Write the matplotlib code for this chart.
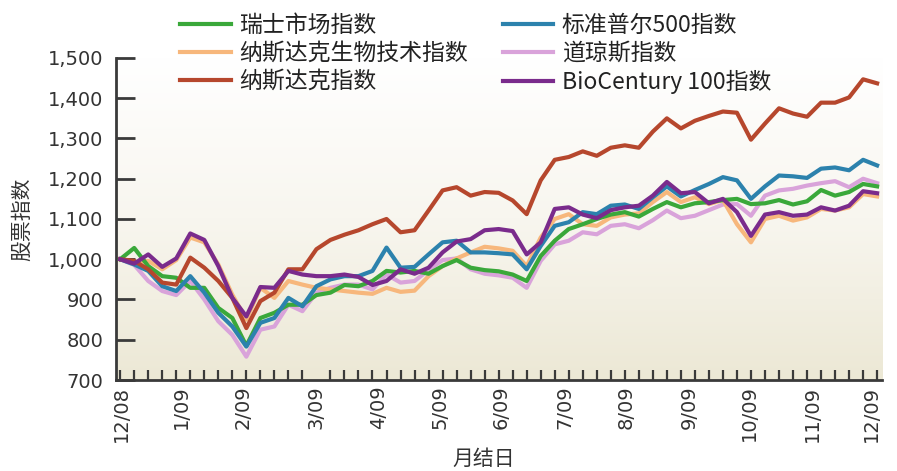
import numpy as np
import matplotlib
matplotlib.use("Agg")
import matplotlib.pyplot as plt
from matplotlib.colors import LinearSegmentedColormap

plt.rcParams['font.family'] = ['Noto Sans CJK SC', 'DejaVu Sans']

# weekly index values, 12/08 = 1000
weeks = np.arange(55)
month_labels = ["12/08", "1/09", "2/09", "3/09", "4/09", "5/09", "6/09",
                "7/09", "8/09", "9/09", "10/09", "11/09", "12/09"]
month_pos = [0.1, 4.4, 8.8, 14.0, 18.4, 22.8, 27.2, 31.7, 36.1, 40.6, 44.9, 49.4, 53.6]

swiss = [1000, 1028, 983, 958, 954, 929, 929, 879, 854, 785, 854, 867, 887, 887,
         911, 917, 936, 933, 946, 971, 967, 971, 964, 983, 998, 979, 973, 970,
         962, 946, 1008, 1046, 1075, 1087, 1100, 1111, 1117, 1106, 1125, 1142,
         1129, 1139, 1142, 1147, 1150, 1137, 1139, 1147, 1136, 1144, 1172, 1158,
         1167, 1187, 1181]
sp500 = [1000, 987, 971, 933, 921, 958, 917, 867, 833, 783, 842, 854, 904, 883,
         933, 950, 958, 958, 971, 1029, 979, 981, 1012, 1042, 1046, 1017, 1017,
         1015, 1012, 975, 1033, 1083, 1092, 1117, 1112, 1133, 1136, 1125, 1154,
         1181, 1156, 1172, 1187, 1204, 1196, 1150, 1181, 1208, 1206, 1202, 1225,
         1228, 1221, 1247, 1233]
biotech = [1000, 992, 996, 975, 998, 1054, 1042, 987, 912, 850, 929, 904, 946,
           937, 929, 925, 921, 917, 914, 929, 919, 922, 958, 983, 1002, 1017,
           1031, 1027, 1021, 983, 1054, 1100, 1112, 1087, 1083, 1104, 1111,
           1114, 1142, 1167, 1142, 1154, 1137, 1147, 1087, 1042, 1100, 1108,
           1096, 1104, 1125, 1121, 1129, 1162, 1156]
dowjones = [1000, 986, 946, 921, 911, 946, 900, 846, 812, 758, 825, 833, 887,
            871, 917, 929, 937, 937, 925, 962, 942, 946, 973, 998, 1002, 975,
            964, 960, 954, 929, 996, 1037, 1046, 1067, 1062, 1083, 1087, 1077,
            1097, 1121, 1102, 1108, 1122, 1136, 1137, 1108, 1158, 1171, 1175,
            1183, 1189, 1194, 1179, 1200, 1189]
nasdaq = [1000, 996, 975, 942, 937, 1004, 979, 946, 904, 829, 896, 917, 975, 975,
          1025, 1048, 1061, 1072, 1087, 1100, 1067, 1072, 1121, 1171, 1179, 1158,
          1167, 1165, 1146, 1112, 1196, 1247, 1254, 1268, 1257, 1277, 1283, 1277,
          1317, 1350, 1325, 1344, 1356, 1367, 1364, 1297, 1337, 1375, 1362, 1354,
          1389, 1389, 1402, 1447, 1437]
biocentury = [1000, 989, 1012, 981, 1002, 1064, 1048, 983, 904, 858, 931, 929,
              971, 962, 958, 958, 962, 956, 936, 946, 975, 964, 979, 1017, 1044,
              1050, 1072, 1075, 1070, 1012, 1042, 1125, 1129, 1111, 1102, 1122,
              1129, 1133, 1158, 1192, 1164, 1167, 1139, 1150, 1117, 1058, 1111,
              1117, 1108, 1111, 1129, 1121, 1133, 1169, 1164]

fig = plt.figure(figsize=(8.97, 4.71), dpi=100)
ax = fig.add_axes([0.1293, 0.1932, 0.8540, 0.6837])

# soft white-to-beige background, white at the top
grad = np.linspace(0, 1, 256).reshape(-1, 1)
cmap = LinearSegmentedColormap.from_list("bg", ["#ffffff", "#f8f6ef", "#ece8d5"])
ax.imshow(grad, aspect='auto', cmap=cmap, extent=[-0.3, 54.35, 700, 1500],
          zorder=0, interpolation='bilinear')

lw = 3
l_dj, = ax.plot(weeks, dowjones, color='#d9a3da', lw=lw, zorder=2)
l_bt, = ax.plot(weeks, biotech, color='#f7b77c', lw=lw, zorder=2)
l_sw, = ax.plot(weeks, swiss, color='#3aa83a', lw=lw, zorder=3)
l_sp, = ax.plot(weeks, sp500, color='#2c82ad', lw=lw, zorder=3)
l_nq, = ax.plot(weeks, nasdaq, color='#b6472d', lw=lw, zorder=4)
l_bc, = ax.plot(weeks, biocentury, color='#7a2b8c', lw=lw, zorder=4)

ax.set_xlim(-0.3, 54.35)
ax.set_ylim(700, 1500)
ax.set_facecolor('none')

for s in ['top', 'right']:
    ax.spines[s].set_visible(False)
for s in ['left', 'bottom']:
    ax.spines[s].set_color('#3a3a3a')
    ax.spines[s].set_linewidth(2)

ax.set_yticks(np.arange(700, 1501, 100))
ax.set_yticklabels([f"{v:,}" for v in range(700, 1501, 100)], fontsize=14,
                   family='DejaVu Sans')
ax.tick_params(axis='y', direction='in', length=14, width=2, color='#3a3a3a',
               pad=9, labelcolor='#333333')

ax.set_xticks(month_pos)
ax.set_xticklabels(month_labels, rotation=90, fontsize=14, family='DejaVu Sans')
ax.set_xticks(weeks, minor=True)
ax.tick_params(axis='x', which='major', length=0, pad=4, labelcolor='#333333')
ax.tick_params(axis='x', which='minor', direction='in', length=7, width=1.6,
               color='#3a3a3a')

ax.set_ylabel("股票指数", fontsize=15, color='#333333')
ax.yaxis.set_label_coords(-0.108, 0.5)
ax.set_xlabel("月结日", fontsize=15, color='#333333')
ax.xaxis.set_label_coords(0.48, -0.212)

handles = [l_sw, l_bt, l_nq, l_sp, l_dj, l_bc]
labels = ["瑞士市场指数", "纳斯达克生物技术指数", "纳斯达克指数",
          "标准普尔500指数", "道琼斯指数", "BioCentury 100指数"]
fig.legend(handles, labels, ncol=2, loc='upper left',
           bbox_to_anchor=(0.178, 1.015), frameon=False, fontsize=16.5,
           handlelength=2.2, handletextpad=0.38, columnspacing=1.5,
           labelspacing=0.22, labelcolor='#222222')

fig.savefig("out.png", dpi=100)
